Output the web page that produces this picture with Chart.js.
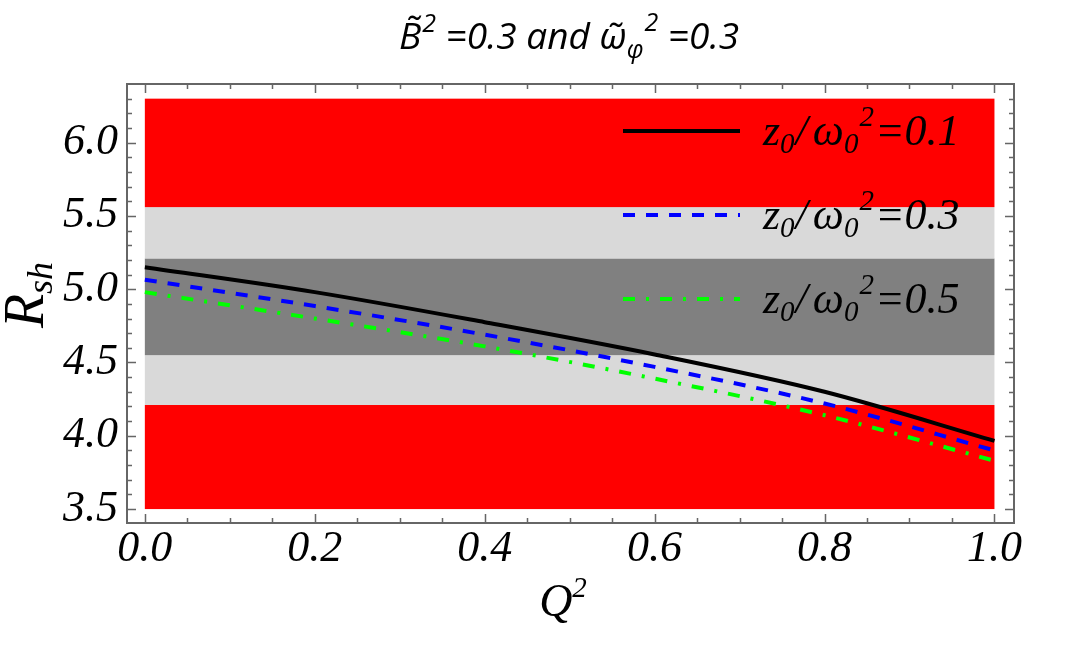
<!DOCTYPE html>
<html>
<head>
<meta charset="utf-8">
<script src="https://cdn.jsdelivr.net/npm/chart.js@4/dist/chart.umd.min.js"></script>
<style>
  html, body { margin: 0; padding: 0; background: #fff; }
  #wrap { width: 1080px; height: 652px; }
</style>
</head>
<body>
<div id="wrap"><canvas id="shadowChart" width="1080" height="652"></canvas></div>
<script>
// --- Data ---
const qValues = [0, 0.2, 0.4, 0.6, 0.8, 1.0];
const rshZ01 = [5.15, 4.98, 4.775, 4.555, 4.30, 3.965];
const rshZ03 = [5.065, 4.885, 4.69, 4.47, 4.22, 3.90];
const rshZ05 = [4.98, 4.80, 4.61, 4.39, 4.14, 3.83];

const seriesLabels = ["0.1", "0.3", "0.5"];

// horizontal bands behind the curves
const bandFrom = [3.5, 4.21, 4.55, 5.21, 5.56];
const bandTo = [4.21, 4.55, 5.21, 5.56, 6.3];
const bandColors = ["#ff0000", "#d9d9d9", "#808080", "#d9d9d9", "#ff0000"];
const bandXStart = 0;
const bandXEnd = 1;

// tick labels
const xTicks = [0, 0.2, 0.4, 0.6, 0.8, 1.0];
const yTicks = [3.5, 4.0, 4.5, 5.0, 5.5, 6.0];
const xMinorStep = 0.05;
const yMinorStep = 0.1;

const SERIF = "'Liberation Serif', 'DejaVu Serif', serif";
const SANS = "'Open Sans', 'DejaVu Sans', sans-serif";

// --- helpers ---
function drawRich(ctx, parts, x, y, align) {
  let w = 0;
  parts.forEach(p => { ctx.font = p.font; w += ctx.measureText(p.t).width + (p.dx || 0); });
  let cx = align === "center" ? x - w / 2 : x;
  parts.forEach(p => {
    ctx.font = p.font;
    cx += (p.dx || 0);
    ctx.fillText(p.t, cx, y + (p.dy || 0));
    cx += ctx.measureText(p.t).width;
  });
}

function legendParts(val) {
  const big = "italic 44px " + SERIF;
  const small = "italic 29px " + SERIF;
  return [
    { t: "z", font: big },
    { t: "0", font: small, dy: 8 },
    { t: "/", font: big, dx: 1 },
    { t: "ω", font: big, dx: 5 },
    { t: "0", font: small, dy: 8 },
    { t: "2", font: small, dy: -19, dx: 1 },
    { t: "=" + val, font: big, dx: 1 }
  ];
}

// --- frame, bands, legend, titles ---
const decorPlugin = {
  id: "decor",
  beforeDatasetsDraw(chart) {
    const { ctx, scales: { x, y } } = chart;
    ctx.save();
    for (let i = 0; i < bandFrom.length; i++) {
      const x0 = x.getPixelForValue(bandXStart);
      const x1 = x.getPixelForValue(bandXEnd);
      const y0 = y.getPixelForValue(bandTo[i]);
      const y1 = y.getPixelForValue(bandFrom[i]);
      ctx.fillStyle = bandColors[i];
      ctx.fillRect(x0, y0, x1 - x0, y1 - y0);
    }
    ctx.restore();
  },
  afterDatasetsDraw(chart) {
    const { ctx, scales: { x, y } } = chart;
    const area = chart.chartArea;
    ctx.save();

    // legend inside the plot, top right
    const lx0 = 623, lx1 = 740, tx = 763;
    const rows = [131, 215, 299];
    chart.data.datasets.forEach((ds, i) => {
      ctx.strokeStyle = ds.borderColor;
      ctx.lineWidth = ds.borderWidth;
      ctx.setLineDash(ds.borderDash || []);
      ctx.beginPath();
      ctx.moveTo(lx0, rows[i]);
      ctx.lineTo(lx1, rows[i]);
      ctx.stroke();
      ctx.setLineDash([]);
      ctx.fillStyle = "#000";
      ctx.textBaseline = "alphabetic";
      ctx.textAlign = "left";
      drawRich(ctx, legendParts(seriesLabels[i]), tx, rows[i] + 14, "left");
    });

    // frame
    ctx.strokeStyle = "#666666";
    ctx.lineWidth = 2;
    ctx.strokeRect(area.left, area.top, area.right - area.left, area.bottom - area.top);

    // ticks on all four sides, pointing inward
    ctx.lineWidth = 1.5;
    ctx.beginPath();
    const xMin = 0, xMax = 1;
    for (let k = 0; k <= Math.round((xMax - xMin) / xMinorStep); k++) {
      const v = xMin + k * xMinorStep;
      const major = k % 4 === 0;
      const len = major ? 9 : 5;
      const px = Math.round(x.getPixelForValue(v)) + 0.5;
      ctx.moveTo(px, area.bottom); ctx.lineTo(px, area.bottom - len);
      ctx.moveTo(px, area.top); ctx.lineTo(px, area.top + len);
    }
    const yMin = 3.4, yMax = 6.4;
    for (let k = 0; k <= Math.round((yMax - yMin) / yMinorStep); k++) {
      const v = yMin + k * yMinorStep;
      const major = Math.abs((v * 2) - Math.round(v * 2)) < 1e-6;
      const len = major ? 9 : 5;
      const py = Math.round(y.getPixelForValue(v)) + 0.5;
      if (py < area.top + 1 || py > area.bottom - 1) continue;
      ctx.moveTo(area.left, py); ctx.lineTo(area.left + len, py);
      ctx.moveTo(area.right, py); ctx.lineTo(area.right - len, py);
    }
    ctx.stroke();
    ctx.restore();
  },
  afterDraw(chart) {
    const { ctx } = chart;
    ctx.save();
    ctx.fillStyle = "#000";
    ctx.textBaseline = "alphabetic";
    ctx.textAlign = "left";

    // title
    const tBig = "italic 37px " + SANS;
    const tSmall = "italic 25px " + SANS;
    drawRich(ctx, [
      { t: "B\u0303", font: tBig },
      { t: "2", font: tSmall, dy: -17, dx: 1 },
      { t: " =0.3 and ", font: tBig },
      { t: "ω\u0303", font: tBig },
      { t: "φ", font: tSmall, dy: 9 },
      { t: "2", font: tSmall, dy: -18, dx: 1 },
      { t: " =0.3", font: tBig }
    ], 569, 49, "center");

    // x axis title
    drawRich(ctx, [
      { t: "Q", font: "italic 46px " + SERIF },
      { t: "2", font: "italic 29px " + SERIF, dy: -19 }
    ], 563, 616, "center");

    // y axis title, rotated
    ctx.translate(43, 295);
    ctx.rotate(-Math.PI / 2);
    drawRich(ctx, [
      { t: "R", font: "italic 56px " + SERIF },
      { t: "sh", font: "italic 36px " + SERIF, dy: 9 }
    ], 0, 0, "center");
    ctx.restore();
  }
};

// --- Chart.js setup ---
const toPoints = arr => qValues.map((q, i) => ({ x: q, y: arr[i] }));

const ctx = document.getElementById("shadowChart").getContext("2d");
const chart = new Chart(ctx, {
  type: "line",
  data: {
    datasets: [
      {
        label: "z0/ω0^2=0.1",
        data: toPoints(rshZ01),
        borderColor: "#000000",
        borderWidth: 4,
        pointRadius: 0,
        cubicInterpolationMode: "monotone",
        fill: false
      },
      {
        label: "z0/ω0^2=0.3",
        data: toPoints(rshZ03),
        borderColor: "#0000ff",
        borderWidth: 4,
        borderDash: [12, 11],
        pointRadius: 0,
        cubicInterpolationMode: "monotone",
        fill: false
      },
      {
        label: "z0/ω0^2=0.5",
        data: toPoints(rshZ05),
        borderColor: "#00ff00",
        borderWidth: 4,
        borderDash: [12, 11, 3, 11],
        pointRadius: 0,
        cubicInterpolationMode: "monotone",
        fill: false
      }
    ]
  },
  options: {
    responsive: false,
    animation: false,
    layout: { padding: { left: 0, right: 66, top: 84, bottom: 0 } },
    plugins: {
      legend: { display: false },
      tooltip: { enabled: false },
      title: { display: false }
    },
    scales: {
      x: {
        type: "linear",
        min: -0.021,
        max: 1.023,
        afterBuildTicks: s => { s.ticks = xTicks.map(v => ({ value: v })); },
        afterFit: s => { s.height = 129; },
        grid: { display: false, drawTicks: false },
        border: { display: false },
        ticks: {
          padding: 0,
          color: "#000",
          font: { family: SERIF, style: "italic", size: 44 },
          callback: v => Number(v).toFixed(1)
        }
      },
      y: {
        type: "linear",
        min: 3.405,
        max: 6.40,
        afterBuildTicks: s => { s.ticks = yTicks.map(v => ({ value: v })); },
        afterFit: s => { s.width = 127; },
        grid: { display: false, drawTicks: false },
        border: { display: false },
        ticks: {
          padding: 9,
          color: "#000",
          font: { family: SERIF, style: "italic", size: 44 },
          callback: v => Number(v).toFixed(1)
        }
      }
    }
  },
  plugins: [decorPlugin]
});
</script>
</body>
</html>
